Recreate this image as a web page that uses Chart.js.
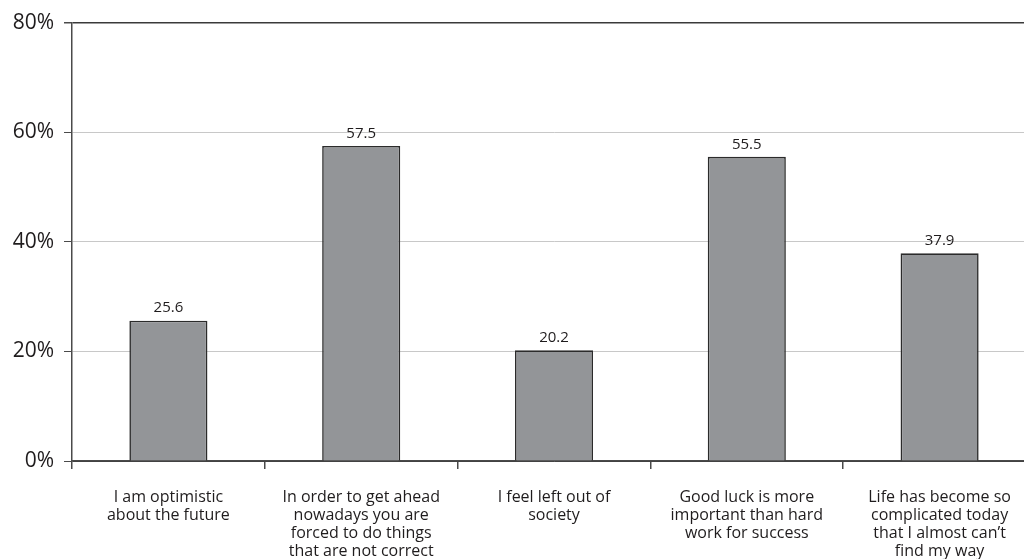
<!DOCTYPE html>
<html>
<head>
<meta charset="utf-8">
<script src="https://cdn.jsdelivr.net/npm/chart.js@4"></script>
<style>
    html, body { margin: 0; padding: 0; background: #fff; overflow: hidden; }
    #wrap { position: absolute; left: 0; top: 0; width: 1036px; height: 559px; }
</style>
</head>
<body>
<div id="wrap"><canvas id="chart" width="1036" height="559"></canvas></div>
<script>
const CATEGORIES = [
    ['I am optimistic', 'about the future'],
    ['In order to get ahead', 'nowadays you are', 'forced to do things', 'that are not correct'],
    ['I feel left out of', 'society'],
    ['Good luck is more', 'important than hard', 'work for success'],
    ['Life has become so', 'complicated today', 'that I almost can\u2019t', 'find my way'],
];
const VALUES     = [25.6, 57.5, 20.2, 55.5, 37.9];
const Y_TICKS    = [0, 20, 40, 60, 80];

const TEXT_COLOR = '#1f1c1d';
const FONT       = '"Open Sans", "Noto Sans", sans-serif';

// prints each bar's value just above its top edge
const valueLabels = {
    id: 'valueLabels',
    afterDatasetsDraw(chart) {
        const ctx  = chart.ctx;
        const meta = chart.getDatasetMeta(0);
        ctx.save();
        ctx.font         = '15px ' + FONT;
        ctx.fillStyle    = TEXT_COLOR;
        ctx.textAlign    = 'center';
        ctx.textBaseline = 'bottom';
        meta.data.forEach((bar, i) => {
            ctx.fillText(VALUES[i].toFixed(1), bar.x, bar.y - 5);
        });
        ctx.restore();
    },
};

new Chart(document.getElementById('chart'), {
    type: 'bar',
    data: {
        labels: CATEGORIES,
        datasets: [{
            data:            VALUES,
            backgroundColor: '#939598',
            borderColor:     '#2b2b2b',
            borderWidth:     1.6,
            barPercentage:   0.405,
            categoryPercentage: 1,
        }],
    },
    options: {
        responsive: false,
        animation:  false,
        layout:     { padding: { top: 22, right: 0, bottom: 0, left: 0 } },
        plugins:    { legend: { display: false }, tooltip: { enabled: false } },
        scales: {
            x: {
                offset: true,
                afterFit: scale => { scale.height = 98; },
                border: { color: '#4a4a4a', width: 1.5 },
                grid: {
                    offset:          true,
                    drawOnChartArea: false,
                    color:           '#4a4a4a',
                    lineWidth:       1.5,
                    tickLength:      8,
                },
                ticks: {
                    color:       TEXT_COLOR,
                    padding:     19,
                    maxRotation: 0,
                    autoSkip:    false,
                    font:        { family: FONT, size: 16, lineHeight: 1.13 },
                },
            },
            y: {
                min: 0,
                max: 80,
                afterFit: scale => { scale.width = 72; },
                afterBuildTicks: scale => {
                    scale.ticks = Y_TICKS.map(v => ({ value: v }));
                },
                border: { color: '#4a4a4a', width: 1.5 },
                grid: {
                    color:      c => (c.tick && (c.tick.value === 80 || c.tick.value === 0)) ? '#3a3a3a' : '#c8c8c8',
                    lineWidth:  c => (c.tick && c.tick.value === 80) ? 1.5 : 1,
                    tickColor:  '#4a4a4a',
                    tickLength: 8,
                },
                ticks: {
                    color:    TEXT_COLOR,
                    padding:  10,
                    font:     { family: FONT, size: 21 },
                    callback: v => v + '%',
                },
            },
        },
    },
    plugins: [valueLabels],
});
</script>
</body>
</html>
